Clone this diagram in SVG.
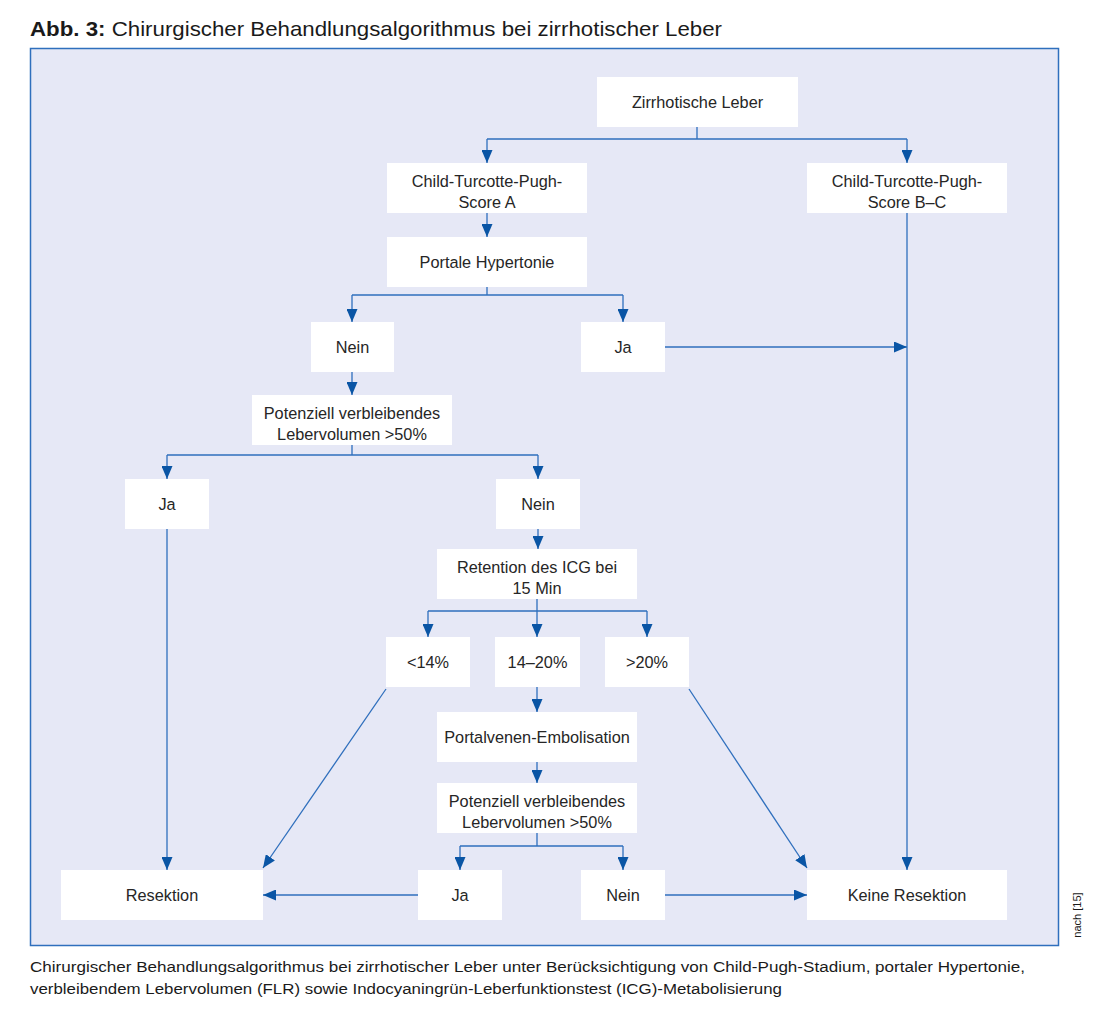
<svg xmlns="http://www.w3.org/2000/svg" width="1100" height="1012" viewBox="0 0 1100 1012">
<defs>
<marker id="ah" viewBox="0 0 13 11" refX="13" refY="5.5" markerWidth="13" markerHeight="11" markerUnits="userSpaceOnUse" orient="auto">
<path d="M0,0 L13,5.5 L0,11 Z" fill="#0a55a5"/>
</marker>
<style>
.n{fill:#ffffff}
.t{font-family:"Liberation Sans",Arial,sans-serif;font-size:16.3px;fill:#262626;text-anchor:middle}
.c{fill:none;stroke:#2f6fbd;stroke-width:1.3}
.a{marker-end:url(#ah)}
.h{font-family:"Liberation Sans",Arial,sans-serif;fill:#1a1a1a}
</style>
</defs>
<rect width="1100" height="1012" fill="#ffffff"/>
<text class="h" x="30" y="36" font-size="21" textLength="692" lengthAdjust="spacingAndGlyphs"><tspan font-weight="bold">Abb. 3:</tspan> Chirurgischer Behandlungsalgorithmus bei zirrhotischer Leber</text>
<rect x="30.5" y="48.5" width="1028" height="897" fill="#e6e8f6" stroke="#2f6fbd" stroke-width="1.5"/>

<g id="connectors">
<path class="c" d="M697,127 V139 M487,139 H907"/>
<path class="c a" d="M487,139 V163"/>
<path class="c a" d="M907,139 V163"/>
<path class="c a" d="M487,213 V237"/>
<path class="c" d="M487,287 V295 M352,295 H623"/>
<path class="c a" d="M352,295 V322"/>
<path class="c a" d="M623,295 V322"/>
<path class="c a" d="M665,347 H907"/>
<path class="c a" d="M907,213 V870"/>
<path class="c a" d="M352,372 V395"/>
<path class="c" d="M352,445 V455 M167,455 H538"/>
<path class="c a" d="M167,455 V479"/>
<path class="c a" d="M538,455 V479"/>
<path class="c a" d="M167,529 V870"/>
<path class="c a" d="M538,529 V549"/>
<path class="c" d="M537,599 V611 M428,611 H647"/>
<path class="c a" d="M428,611 V637"/>
<path class="c a" d="M537,611 V637"/>
<path class="c a" d="M647,611 V637"/>
<path class="c a" d="M537,687 V712"/>
<path class="c a" d="M537,762 V783"/>
<path class="c" d="M537,833 V846 M460,846 H623"/>
<path class="c a" d="M460,846 V870"/>
<path class="c a" d="M623,846 V870"/>
<path class="c a" d="M386,689 L263,868"/>
<path class="c a" d="M689,689 L807,868"/>
<path class="c a" d="M418,895 H263"/>
<path class="c a" d="M665,895 H807"/>
</g>

<g id="n1"><rect class="n" x="597" y="77" width="201" height="50"/><text class="t" x="697.5" y="108">Zirrhotische Leber</text></g>
<g id="n2"><rect class="n" x="387" y="163" width="200" height="50"/><text class="t" x="487" y="187">Child-Turcotte-Pugh-</text><text class="t" x="487" y="208">Score A</text></g>
<g id="n3"><rect class="n" x="807" y="163" width="200" height="50"/><text class="t" x="907" y="187">Child-Turcotte-Pugh-</text><text class="t" x="907" y="208">Score B–C</text></g>
<g id="n4"><rect class="n" x="387" y="237" width="200" height="50"/><text class="t" x="487" y="268">Portale Hypertonie</text></g>
<g id="n5"><rect class="n" x="311" y="322" width="83" height="50"/><text class="t" x="352.5" y="353">Nein</text></g>
<g id="n6"><rect class="n" x="581" y="322" width="84" height="50"/><text class="t" x="623" y="353">Ja</text></g>
<g id="n7"><rect class="n" x="252" y="395" width="200" height="50"/><text class="t" x="352" y="419">Potenziell verbleibendes</text><text class="t" x="352" y="440">Lebervolumen &gt;50%</text></g>
<g id="n8"><rect class="n" x="125" y="479" width="84" height="50"/><text class="t" x="167" y="510">Ja</text></g>
<g id="n9"><rect class="n" x="496" y="479" width="84" height="50"/><text class="t" x="538" y="510">Nein</text></g>
<g id="n10"><rect class="n" x="437" y="549" width="200" height="50"/><text class="t" x="537" y="573">Retention des ICG bei</text><text class="t" x="537" y="594">15 Min</text></g>
<g id="n11"><rect class="n" x="386" y="637" width="84" height="50"/><text class="t" x="428" y="668">&lt;14%</text></g>
<g id="n12"><rect class="n" x="495" y="637" width="85" height="50"/><text class="t" x="537.5" y="668">14–20%</text></g>
<g id="n13"><rect class="n" x="605" y="637" width="84" height="50"/><text class="t" x="647" y="668">&gt;20%</text></g>
<g id="n14"><rect class="n" x="437" y="712" width="200" height="50"/><text class="t" x="537" y="743">Portalvenen-Embolisation</text></g>
<g id="n15"><rect class="n" x="437" y="783" width="200" height="50"/><text class="t" x="537" y="807">Potenziell verbleibendes</text><text class="t" x="537" y="828">Lebervolumen &gt;50%</text></g>
<g id="n16"><rect class="n" x="61" y="870" width="202" height="50"/><text class="t" x="162" y="901">Resektion</text></g>
<g id="n17"><rect class="n" x="418" y="870" width="84" height="50"/><text class="t" x="460" y="901">Ja</text></g>
<g id="n18"><rect class="n" x="581" y="870" width="84" height="50"/><text class="t" x="623" y="901">Nein</text></g>
<g id="n19"><rect class="n" x="807" y="870" width="200" height="50"/><text class="t" x="907" y="901">Keine Resektion</text></g>

<text class="h" x="1081" y="915" font-size="11" fill="#555" text-anchor="middle" transform="rotate(-90 1081 915)">nach [15]</text>
<text class="h" x="30" y="972" font-size="15.5" fill="#262626" textLength="995" lengthAdjust="spacingAndGlyphs">Chirurgischer Behandlungsalgorithmus bei zirrhotischer Leber unter Berücksichtigung von Child-Pugh-Stadium, portaler Hypertonie,</text>
<text class="h" x="30" y="994" font-size="15.5" fill="#262626" textLength="752" lengthAdjust="spacingAndGlyphs">verbleibendem Lebervolumen (FLR) sowie Indocyaningrün-Leberfunktionstest (ICG)-Metabolisierung</text>
</svg>
